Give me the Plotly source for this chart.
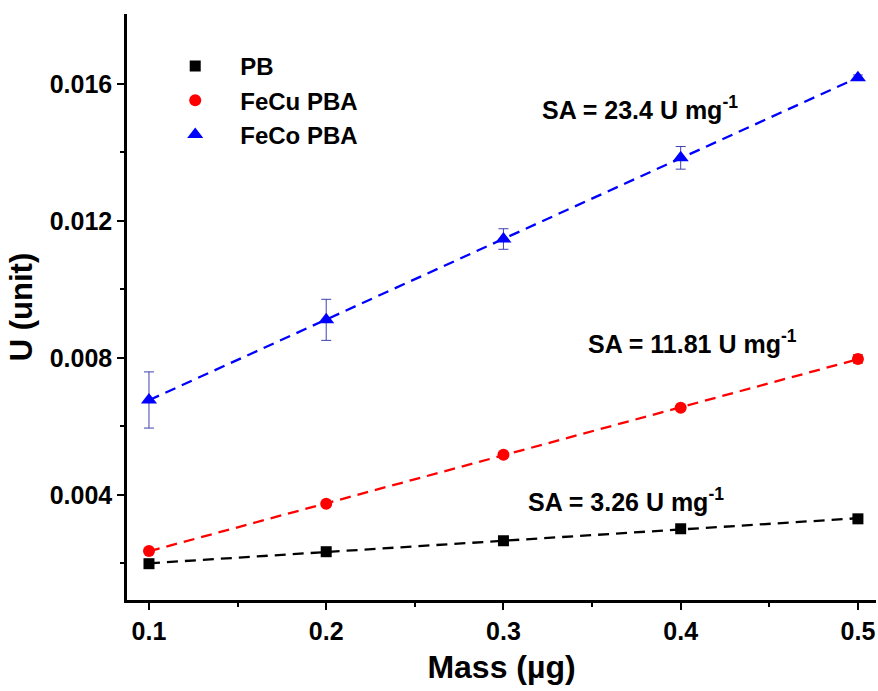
import numpy as np
import plotly.graph_objects as go

mass = [0.1, 0.2, 0.3, 0.4, 0.5]
pb = [0.00199, 0.00234, 0.00266, 0.00301, 0.00330]
pb_err = [0.00005, 0.00005, 0.00005, 0.00005, 0.00008]
fecu = [0.00236, 0.00374, 0.00517, 0.00654, 0.00797]
fecu_err = [0.00006, 0.00006, 0.00006, 0.00006, 0.00012]
feco = [0.00677, 0.00911, 0.01147, 0.01384, 0.01618]
feco_err = [0.00082, 0.00060, 0.00030, 0.00033, 0.00008]
names = ["PB", "FeCu PBA", "FeCo PBA"]
sa_labels = ["SA = 3.26 U mg<sup>-1</sup>", "SA = 11.81 U mg<sup>-1</sup>", "SA = 23.4 U mg<sup>-1</sup>"]

FONT = "Arial, Liberation Sans, sans-serif"
series = [
    (pb, pb_err, "black", "square", 11, "black"),
    (fecu, fecu_err, "#ff0000", "circle", 12, "#b00000"),
    (feco, feco_err, "#0000ff", "triangle-up", 14, "#4040b0"),
]

fig = go.Figure()
# fit lines
for (y, e, c, sym, sz, ec) in series:
    k, b = np.polyfit(mass, y, 1)
    xs = np.array([mass[0], mass[-1]])
    fig.add_trace(go.Scatter(x=xs, y=k * xs + b, mode="lines", showlegend=False,
                             line=dict(color=c, width=2.3, dash="11px,7px"), hoverinfo="skip"))
for name, (y, e, c, sym, sz, ec) in zip(names, series):
    fig.add_trace(go.Scatter(x=mass, y=y, mode="markers", name=name,
                             marker=dict(color=c, symbol=sym, size=sz),
                             error_y=dict(type="data", array=e, visible=True, color=ec, thickness=1, width=5)))

# annotations
ann_pos = [(0.369, 0.00385), (0.4064, 0.00845), (0.377, 0.0153)]
for txt, (ax, ay) in zip(sa_labels, ann_pos):
    fig.add_annotation(x=ax, y=ay, text=txt, showarrow=False, xanchor="center", yanchor="middle",
                       font=dict(family=FONT, size=25, color="black", weight="bold"))

axis_common = dict(showline=True, linecolor="black", linewidth=2.5, ticks="outside", ticklen=7,
                   tickwidth=2, tickcolor="black", showgrid=False, zeroline=False, mirror=False,
                   tickfont=dict(family=FONT, size=25, color="black", weight="bold"))
fig.update_xaxes(range=[0.0876, 0.5102], tickvals=[0.1, 0.2, 0.3, 0.4, 0.5],
                 ticktext=["0.1", "0.2", "0.3", "0.4", "0.5"],
                 minor=dict(tickvals=[0.15, 0.25, 0.35, 0.45], ticks="outside", ticklen=4, tickwidth=2, tickcolor="black"),
                 title=dict(text="Mass (µg)", font=dict(family=FONT, size=32, color="black", weight="bold"), standoff=12),
                 **axis_common)
fig.update_yaxes(range=[0.00093, 0.01804], tickvals=[0.004, 0.008, 0.012, 0.016],
                 ticktext=["0.004", "0.008", "0.012", "0.016"],
                 minor=dict(tickvals=[0.002, 0.006, 0.010, 0.014], ticks="outside", ticklen=4, tickwidth=2, tickcolor="black"),
                 title=dict(text="U (unit)", font=dict(family=FONT, size=31, color="black", weight="bold"), standoff=8),
                 **axis_common)

fig.update_layout(
    width=878, height=691,
    margin=dict(l=127, r=2, t=14, b=91),
    plot_bgcolor="white", paper_bgcolor="white",
    font=dict(family=FONT, color="black"),
    legend=dict(x=0.031, y=0.949, xanchor="left", yanchor="top", itemwidth=80,
                bgcolor="rgba(0,0,0,0)", font=dict(family=FONT, size=24, color="black", weight="bold")),
)
fig.write_html("out.html", config={"displayModeBar": False},
               post_script="document.body.style.margin='0';document.body.style.overflow='hidden';")
